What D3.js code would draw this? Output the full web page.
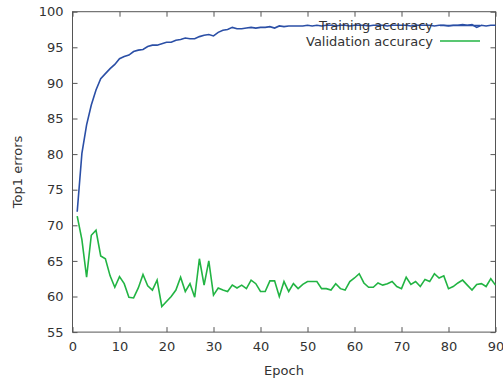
<!DOCTYPE html>
<html>
<head>
<meta charset="utf-8">
<script src="https://cdn.jsdelivr.net/npm/d3@7"></script>
<style>
  body { margin: 0; background: #fff; }
  text { font-family: "DejaVu Sans", sans-serif; font-size: 13px; fill: #333; }
</style>
</head>
<body>
<div id="main"></div>
<script>

var epochs = d3.range(1, 91);

var training = [
  71.9, 80.1, 84.1, 86.9, 89.0, 90.6, 91.3, 92.0, 92.6, 93.4,
  93.7, 93.9, 94.4, 94.6, 94.7, 95.1, 95.3, 95.3, 95.5, 95.7,
  95.7, 96.0, 96.1, 96.3, 96.2, 96.2, 96.5, 96.7, 96.8, 96.6,
  97.1, 97.4, 97.5, 97.8, 97.6, 97.6, 97.7, 97.8, 97.7, 97.8,
  97.8, 97.9, 97.7, 98.0, 97.9, 98.0, 98.0, 98.0, 98.0, 98.1,
  98.0, 98.1, 98.0, 98.1, 98.1, 98.0, 98.1, 98.1, 98.0, 98.1,
  98.1, 98.1, 98.0, 98.1, 98.1, 98.1, 98.0, 98.1, 98.1, 98.1,
  98.1, 98.0, 98.1, 98.1, 98.1, 98.1, 98.0, 98.1, 98.1, 98.0,
  98.1, 98.1, 98.2, 98.1, 98.2, 97.8, 98.1, 98.0, 98.1, 98.1
];

var validation = [
  71.3, 68.0, 62.7, 68.6, 69.3, 65.7, 65.3, 62.9, 61.3, 62.8,
  61.8, 59.9, 59.8, 61.2, 63.1, 61.5, 60.9, 62.3, 58.6, 59.3,
  60.0, 60.9, 62.7, 60.7, 61.8, 59.9, 65.3, 61.6, 65.0, 60.2,
  61.2, 60.9, 60.7, 61.6, 61.2, 61.6, 61.1, 62.3, 61.8, 60.7,
  60.7, 62.2, 62.2, 60.0, 62.1, 60.7, 61.8, 61.1, 61.7, 62.1,
  62.1, 62.1, 61.1, 61.1, 60.9, 61.8, 61.1, 60.9, 62.1, 62.6,
  63.2, 61.9, 61.3, 61.3, 61.9, 61.6, 61.8, 62.1, 61.4, 61.1,
  62.7, 61.7, 62.1, 61.4, 62.4, 62.1, 63.2, 62.6, 62.9, 61.1,
  61.4, 61.9, 62.3, 61.6, 60.9, 61.7, 61.8, 61.4, 62.5, 61.6
];

var x_ticks = [0, 10, 20, 30, 40, 50, 60, 70, 80, 90];

var y_ticks = [55, 60, 65, 70, 75, 80, 85, 90, 95, 100];

var series_names = ['Training accuracy', 'Validation accuracy'];

var series_colors = ['#2b4fa6', '#22b443'];

function create_chart() {

  var width = 503;

  var height = 381;

  var plot = { left: 72.5, right: 495.5, top: 11.7, bottom: 332.1 };

  var svg = d3.select('#main').append('svg')
    .attr('width', width)
    .attr('height', height);

  var xScale = d3.scaleLinear()
    .domain([0, 90])
    .range([plot.left, plot.right]);

  var yScale = d3.scaleLinear()
    .domain([55, 100])
    .range([plot.bottom, plot.top]);

  var tick_len = 5;

  // ticks on all four sides, pointing inward
  svg.append('g')
    .attr('transform', 'translate(0,' + plot.bottom + ')')
    .call(d3.axisBottom(xScale).tickValues(x_ticks).tickSize(-tick_len).tickPadding(10).tickFormat(d3.format('d')))
    .call(function (g) { g.select('.domain').remove(); });

  svg.append('g')
    .attr('transform', 'translate(0,' + plot.top + ')')
    .call(d3.axisTop(xScale).tickValues(x_ticks).tickSize(-tick_len).tickFormat(''))
    .call(function (g) { g.select('.domain').remove(); });

  svg.append('g')
    .attr('transform', 'translate(' + plot.left + ',0)')
    .call(d3.axisLeft(yScale).tickValues(y_ticks).tickSize(-tick_len).tickPadding(9).tickFormat(d3.format('d')))
    .call(function (g) { g.select('.domain').remove(); });

  svg.append('g')
    .attr('transform', 'translate(' + plot.right + ',0)')
    .call(d3.axisRight(yScale).tickValues(y_ticks).tickSize(-tick_len).tickFormat(''))
    .call(function (g) { g.select('.domain').remove(); });

  svg.selectAll('.tick line').attr('stroke', '#555');

  svg.selectAll('.tick text')
    .attr('font-family', '"DejaVu Sans", sans-serif')
    .attr('font-size', 13)
    .attr('fill', '#333');

  svg.append('rect')
    .attr('x', plot.left)
    .attr('y', plot.top)
    .attr('width', plot.right - plot.left)
    .attr('height', plot.bottom - plot.top)
    .attr('fill', 'none')
    .attr('stroke', '#555')
    .attr('stroke-width', 1);

  var line = d3.line()
    .x(function (d, i) { return xScale(epochs[i]); })
    .y(function (d) { return yScale(d); });

  svg.append('path')
    .datum(training)
    .attr('d', line)
    .attr('fill', 'none')
    .attr('stroke', series_colors[0])
    .attr('stroke-width', 1.6);

  svg.append('path')
    .datum(validation)
    .attr('d', line)
    .attr('fill', 'none')
    .attr('stroke', series_colors[1])
    .attr('stroke-width', 1.6);

  // legend, top right
  var legend = svg.selectAll('.legend')
    .data(series_names)
    .enter()
    .append('g')
    .attr('class', 'legend')
    .attr('transform', function (d, i) { return 'translate(0,' + (25.5 + i * 15.5) + ')'; });

  legend.append('text')
    .attr('x', 433)
    .attr('y', 0)
    .attr('dy', '0.35em')
    .attr('text-anchor', 'end')
    .text(function (d) { return d; });

  legend.append('line')
    .attr('x1', 440)
    .attr('x2', 480)
    .attr('y1', 0)
    .attr('y2', 0)
    .attr('stroke', function (d, i) { return series_colors[i]; })
    .attr('stroke-width', 1.6);

  svg.append('text')
    .attr('x', 284)
    .attr('y', 375)
    .attr('text-anchor', 'middle')
    .text('Epoch');

  svg.append('text')
    .attr('transform', 'translate(22,' + ((plot.top + plot.bottom) / 2) + ') rotate(-90)')
    .attr('text-anchor', 'middle')
    .text('Top1 errors');
}

create_chart();
</script>
</body>
</html>
